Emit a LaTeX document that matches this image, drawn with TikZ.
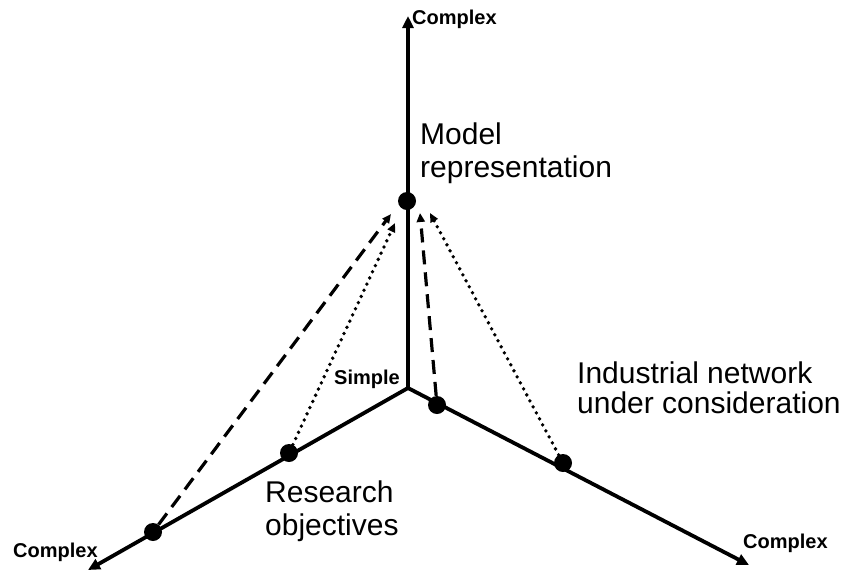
\documentclass[tikz,border=0pt]{standalone}
\usepackage{fontspec}
\setmainfont{Liberation Sans}
\usetikzlibrary{arrows.meta}
\begin{document}
\begin{tikzpicture}[x=1pt,y=-1pt,
  axis/.style={line width=3.8pt,-{Triangle[length=12pt,width=11pt]}},
  link/.style={line width=3.2pt,-{Triangle[length=9pt,width=8pt]}},
  dashlink/.style={link,dash pattern=on 14pt off 8pt},
  dotlink/.style={link,line width=3.8pt,dash pattern=on 0pt off 6.8pt,line cap=round},
  dot/.style={circle,fill=black,inner sep=0pt,minimum size=18pt},
  big/.style={inner sep=0pt,align=left},
  small/.style={font=\fontsize{20}{22}\selectfont\bfseries,inner sep=0pt}]
\useasboundingbox (0,0) rectangle (848,571);
% axes
\coordinate (O) at (408,388);
\coordinate (top) at (408,16);
\coordinate (left) at (88,570);
\coordinate (right) at (749,565);
\draw[axis] (O) -- (top);
\draw[axis] (O) -- (left);
\draw[axis] (O) -- (right);
% points on the axes
\node[dot] (M) at (407,201) {};
\node[dot] (A) at (153,532) {};
\node[dot] (R) at (289,453) {};
\node[dot] (N) at (437,405) {};
\node[dot] (I) at (563,463) {};
% arrow targets next to the model point
\coordinate (tA) at (391,214);
\coordinate (tR) at (395,223);
\coordinate (tN) at (420,213);
\coordinate (tI) at (430,213);
\draw[dashlink] (A) -- (tA);
\draw[dotlink] (R) -- (tR);
\draw[dashlink] (N) -- (tN);
\draw[dotlink] (I) -- (tI);
% labels
\node[small,anchor=base west] (lt) at (412,24) {Complex};
\node[small,anchor=base west] (ll) at (13,557) {Complex};
\node[small,anchor=base west] (lr) at (743,548) {Complex};
\node[small,anchor=base east] (ls) at (400,384) {Simple};
\node[big,anchor=base west,font=\fontsize{30}{33}\selectfont] (lm) at (420,177) {Model\\representation};
\node[big,anchor=base west,font=\fontsize{30}{30}\selectfont] (li) at (577,413) {Industrial network\\under consideration};
\node[big,anchor=base west,font=\fontsize{30}{33}\selectfont] (lo) at (265,535) {Research\\objectives};
\end{tikzpicture}
\end{document}
